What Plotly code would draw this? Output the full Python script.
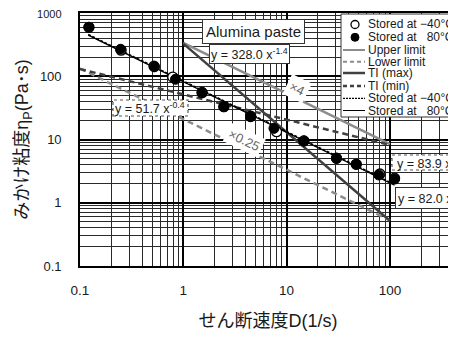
import plotly.graph_objects as go

# ---- data ----
rate_m40 = [0.122, 0.25, 0.52, 0.79, 1.52, 2.47, 4.5, 8.0, 14.7, 30.4, 47.2, 80, 111]
visc_m40 = [594, 258, 144, 97, 55, 33, 23.3, 13.3, 9.5, 5.05, 4.05, 2.85, 2.45]
rate_80 = [0.122, 0.247, 0.526, 0.84, 1.52, 2.47, 4.47, 7.55, 14.7, 30.4, 47.2, 78, 111]
visc_80 = [594, 267, 141, 89.5, 55.7, 33, 22.9, 15.0, 9.5, 5.05, 4.05, 2.75, 2.37]

fit_x = [0.12, 111]
fit_m40_y = [457, 1.94]      # y = 83.9 x^-0.8
fit_80_y = [447, 1.89]       # y = 82.0 x^-0.8
ti_max_x = [1, 100]
ti_max_y = [328, 0.52]       # y = 328.0 x^-1.4
ti_min_x = [0.1, 100]
ti_min_y = [129.9, 8.19]     # y = 51.7 x^-0.4
upper_x = [1, 100]
upper_y = [335.6, 8.43]      # x4
lower_x = [0.1, 100]
lower_y = [132.3, 0.527]     # x0.25

x_ticks = [0.1, 1, 10, 100]
x_ticktext = ["0.1", "1", "10", "100"]
y_ticks = [0.1, 1, 10, 100, 1000]
y_ticktext = ["0.1", "1", "10", "100", "<span style='font-size:11px'>1000</span>"]

FONT = "Liberation Sans, Arial, Noto Sans CJK JP, sans-serif"
OFF = 8  # default page margin
W, H = 456 - OFF, 345 - OFF
PL, PR, PT, PB = 80, 456, 13, 266          # plot area in page pixels
L, R, T, B = PL - OFF, PR - OFF, PT - OFF, PB - OFF

def px(x):
    return (x - PL) / (PR - PL)

def py(y):
    return (PB - y) / (PB - PT)

GRAY = "#8c8c8c"
DARK = "#404040"

fig = go.Figure()
fig.add_trace(go.Scatter(x=upper_x, y=upper_y, mode="lines", name="Upper limit",
                         line=dict(color=GRAY, width=2.5)))
fig.add_trace(go.Scatter(x=lower_x, y=lower_y, mode="lines", name="Lower limit",
                         line=dict(color=GRAY, width=2.5, dash="6px,4px")))
fig.add_trace(go.Scatter(x=ti_max_x, y=ti_max_y, mode="lines", name="TI (max)",
                         line=dict(color=DARK, width=2.5)))
fig.add_trace(go.Scatter(x=ti_min_x, y=ti_min_y, mode="lines", name="TI (min)",
                         line=dict(color=DARK, width=2.5, dash="6px,4px")))
fig.add_trace(go.Scatter(x=fit_x, y=fit_m40_y, mode="lines", name="Stored at −40°C fit",
                         line=dict(color="black", width=1.6, dash="3px,1.5px")))
fig.add_trace(go.Scatter(x=fit_x, y=fit_80_y, mode="lines", name="Stored at 80°C fit",
                         line=dict(color="black", width=1.2)))
fig.add_trace(go.Scatter(x=rate_m40, y=visc_m40, mode="markers", name="Stored at −40°C",
                         marker=dict(size=10, color="white", line=dict(color="black", width=1.3))))
fig.add_trace(go.Scatter(x=rate_80, y=visc_80, mode="markers", name="Stored at 80°C",
                         marker=dict(size=10, color="black", line=dict(color="black", width=1))))

minor_x = [m * d for d in (0.1, 1, 10, 100) for m in range(2, 10)]
minor_y = [m * d for d in (0.1, 1, 10, 100) for m in range(2, 10)]

NB = "\u00a0"
fig.update_layout(
    width=W, height=H,
    margin=dict(l=L, r=W - R, t=T, b=H - B, autoexpand=False),
    paper_bgcolor="white", plot_bgcolor="white",
    showlegend=False,
    font=dict(family=FONT, color="#1a1a1a", size=13),
    xaxis=dict(type="log", range=[-1, -1 + (PR - PL) / 103.3], automargin=False,
               tickvals=x_ticks, ticktext=x_ticktext, tickfont=dict(size=13.5),
               showgrid=True, gridcolor="black", gridwidth=1.6,
               minor=dict(tickvals=minor_x, showgrid=True, gridcolor="#2a2a2a", gridwidth=1),
               showline=True, linecolor="black", linewidth=1.6, mirror=True,
               ticks="", ticklabelstandoff=11, zeroline=False, ticklabeloverflow="allow",
               title=dict(text="せん断速度D(1/s)", font=dict(size=18), standoff=17)),
    yaxis=dict(type="log", range=[-1, 3], automargin=False,
               tickvals=y_ticks, ticktext=y_ticktext, tickfont=dict(size=13),
               showgrid=True, gridcolor="black", gridwidth=1.6,
               minor=dict(tickvals=minor_y, showgrid=True, gridcolor="#2a2a2a", gridwidth=1),
               showline=True, linecolor="black", linewidth=1.6, mirror=True,
               ticks="", ticklabelstandoff=14, zeroline=False, ticklabeloverflow="allow",
               title=dict(text="みかけ粘度η<sub>P</sub>(Pa･s)" + NB * 4,
                          font=dict(size=18), standoff=4)),
)

shapes = []
ann = []

# dashed equation boxes
shapes.append(dict(type="rect", xref="paper", yref="paper",
                   x0=px(113), x1=px(188), y0=py(116), y1=py(100),
                   line=dict(color="#555", width=1.2, dash="dot"), fillcolor="white", layer="above"))
shapes.append(dict(type="rect", xref="paper", yref="paper",
                   x0=px(392), x1=px(470), y0=py(170), y1=py(155),
                   line=dict(color="#555", width=1.2, dash="dot"), fillcolor="white", layer="above"))

ann.append(dict(x=-0.318, y=1.498, xref="x", yref="y", showarrow=False,
                text="y = 51.7 x<sup>-0.4</sup>", font=dict(size=12.5)))
ann.append(dict(x=2.049, y=0.636, xref="x", yref="y", showarrow=False, xanchor="left",
                text="y = 83.9 x<sup>-0.8</sup>", font=dict(size=12.5)))
ann.append(dict(x=2.049, y=0.083, xref="x", yref="y", showarrow=False, xanchor="left",
                text="y = 82.0 x<sup>-0.8</sup>", font=dict(size=12.5),
                bgcolor="white", bordercolor="#333", borderwidth=1, borderpad=2))
ann.append(dict(x=0.641, y=2.344, xref="x", yref="y", showarrow=False,
                text="y = 328.0 x<sup>-1.4</sup>", font=dict(size=12.5),
                bgcolor="white", bordercolor="#333", borderwidth=1, borderpad=1))
ann.append(dict(x=0.684, y=2.715, xref="x", yref="y", showarrow=False,
                text="Alumina paste", font=dict(size=15),
                bgcolor="white", bordercolor="#333", borderwidth=1, borderpad=3))
ann.append(dict(x=1.101, y=1.814, xref="x", yref="y", showarrow=False,
                text="×4", textangle=26, font=dict(size=13, color="#666"),
                bgcolor="white", borderpad=3))
ann.append(dict(x=0.597, y=0.992, xref="x", yref="y", showarrow=False,
                text="×0.25", textangle=26, font=dict(size=13, color="#666"),
                bgcolor="white", borderpad=2))

# manual legend
shapes.append(dict(type="rect", xref="paper", yref="paper",
                   x0=px(341), x1=px(480), y0=py(117), y1=py(14),
                   line=dict(color="#333", width=1), fillcolor="white", layer="above"))
rows = [24.5, 37.3, 50, 61.7, 73, 86, 98.3, 110.5]
labels = ["Stored at −40°C", "Stored at " + NB * 2 + "80°C", "Upper limit", "Lower limit",
          "TI (max)", "TI (min)", "Stored at −40°C", "Stored at " + NB * 2 + "80°C"]
for yy, lab in zip(rows, labels):
    ann.append(dict(x=px(366), y=py(yy), xref="paper", yref="paper", showarrow=False,
                    xanchor="left", yanchor="middle", text=lab, font=dict(size=12)))
# legend symbols
shapes.append(dict(type="circle", xref="paper", yref="paper", xsizemode="pixel", ysizemode="pixel",
                   xanchor=px(355), yanchor=py(rows[0]), x0=-4, x1=4, y0=-4, y1=4,
                   line=dict(color="black", width=1.3), fillcolor="white", layer="above"))
shapes.append(dict(type="circle", xref="paper", yref="paper", xsizemode="pixel", ysizemode="pixel",
                   xanchor=px(355), yanchor=py(rows[1]), x0=-4, x1=4, y0=-4, y1=4,
                   line=dict(color="black", width=1), fillcolor="black", layer="above"))
line_styles = [
    (GRAY, 2, "solid"), (GRAY, 2, "4px,3px"), (DARK, 2.5, "solid"),
    (DARK, 2.5, "4px,3px"), ("black", 1.2, "2px,1px"), ("black", 1, "solid"),
]
for yy, (c, w, d) in zip(rows[2:], line_styles):
    shapes.append(dict(type="line", xref="paper", yref="paper",
                       x0=px(343), x1=px(365), y0=py(yy), y1=py(yy),
                       line=dict(color=c, width=w, dash=d), layer="above"))

fig.update_layout(shapes=shapes, annotations=ann)
fig.write_html("out.html")
